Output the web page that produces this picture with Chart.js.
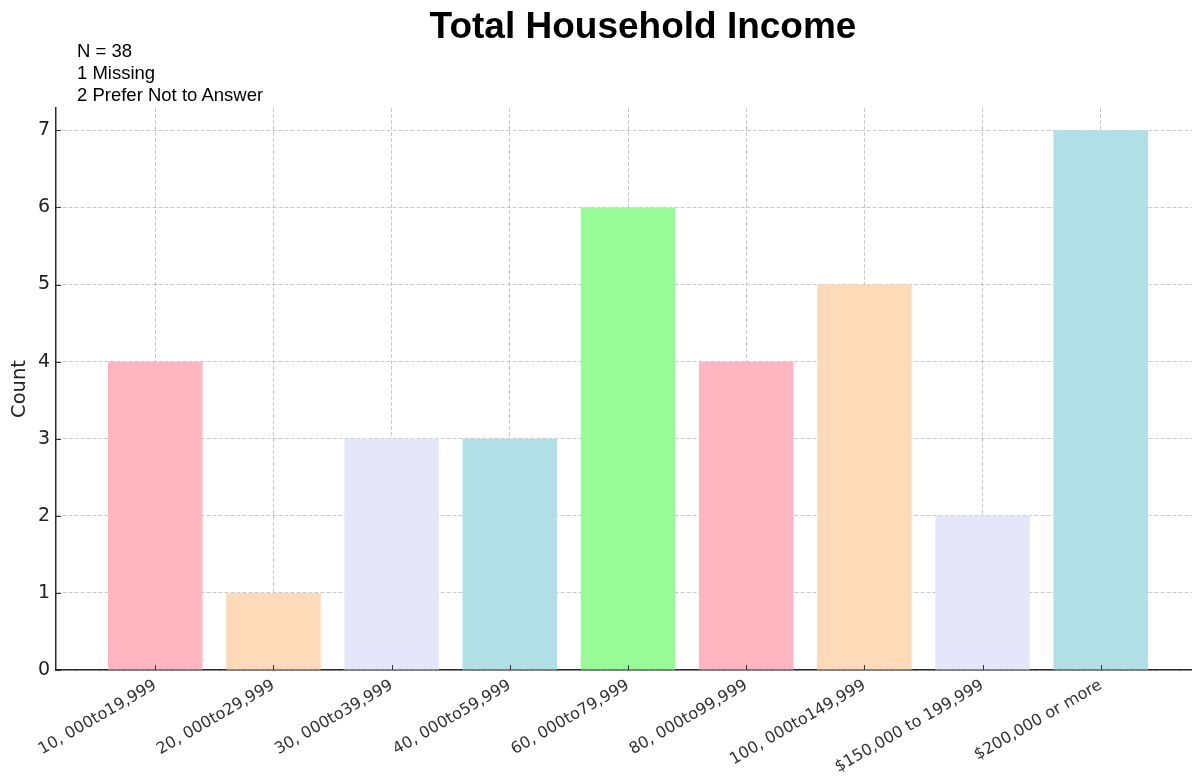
<!DOCTYPE html>
<html>
<head>
<meta charset="utf-8">
<script src="https://cdn.jsdelivr.net/npm/chart.js@4.4.1/dist/chart.umd.min.js"></script>
<style>
  html, body { margin: 0; padding: 0; background: #fff; overflow: hidden; }
  #wrap { position: relative; width: 1192px; height: 780px; overflow: hidden; }
  #chart { position: absolute; left: 0; top: 0; }
  #title {
    position: absolute; left: 643px; top: 7px; transform: translateX(-50%);
    font: bold 37px "Liberation Sans", Arial, sans-serif; line-height: 37px;
    color: #000; white-space: nowrap;
  }
  #notes {
    position: absolute; left: 77px; top: 40px;
    font: 18.5px "Liberation Sans", Arial, sans-serif; line-height: 22px;
    color: #000; white-space: nowrap;
  }
</style>
</head>
<body>
<div id="wrap">
  <canvas id="chart" width="1200" height="780"></canvas>
  <div id="title">Total Household Income</div>
  <div id="notes">N = 38<br>1 Missing<br>2 Prefer Not to Answer</div>
</div>
<script>
const categories = [
  "10, 000to19,999",
  "20, 000to29,999",
  "30, 000to39,999",
  "40, 000to59,999",
  "60, 000to79,999",
  "80, 000to99,999",
  "100, 000to149,999",
  "$150,000 to 199,999",
  "$200,000 or more"
];
const counts = [4, 1, 3, 3, 6, 4, 5, 2, 7];
const barColors = [
  "#FFB6C1", "#FFDAB9", "#E6E6FA", "#B0E0E6", "#98FB98",
  "#FFB6C1", "#FFDAB9", "#E6E6FA", "#B0E0E6"
];
const yTicks = [0, 1, 2, 3, 4, 5, 6, 7];

// matplotlib style inward tick marks
const inwardTicks = {
  id: "inwardTicks",
  afterDraw(chart) {
    const { ctx, chartArea, scales } = chart;
    ctx.save();
    ctx.strokeStyle = "#333";
    ctx.lineWidth = 1;
    scales.y.ticks.forEach(t => {
      const y = Math.round(scales.y.getPixelForValue(t.value)) + 0.5;
      ctx.beginPath();
      ctx.moveTo(chartArea.left, y);
      ctx.lineTo(chartArea.left + 5, y);
      ctx.stroke();
    });
    scales.x.ticks.forEach(t => {
      const x = Math.round(scales.x.getPixelForValue(t.value)) + 0.5;
      ctx.beginPath();
      ctx.moveTo(x, chartArea.bottom);
      ctx.lineTo(x, chartArea.bottom - 5);
      ctx.stroke();
    });
    ctx.restore();
  }
};

const gridStyle = {
  color: "rgba(150,150,150,0.5)",
  lineWidth: 1,
  drawTicks: false,
  offset: false
};

new Chart(document.getElementById("chart"), {
  type: "bar",
  data: {
    datasets: [{
      data: counts.map((v, i) => ({ x: i, y: v })),
      backgroundColor: barColors,
      borderWidth: 0,
      barPercentage: 0.8,
      categoryPercentage: 1.0
    }]
  },
  options: {
    responsive: false,
    animation: false,
    devicePixelRatio: 1,
    layout: { padding: { top: 108, left: 0, right: 0, bottom: 0 } },
    plugins: { legend: { display: false }, tooltip: { enabled: false } },
    scales: {
      x: {
        type: "linear",
        offset: false,
        min: -0.84,
        max: 8.84,
        z: 1,
        afterBuildTicks: s => { s.ticks = categories.map((c, i) => ({ value: i })); },
        afterFit: s => { s.height = 110; },
        grid: { ...gridStyle },
        border: { display: true, color: "#2a2a2a", width: 1.5, dash: [4, 2] },
        ticks: {
          autoSkip: false,
          minRotation: 30,
          maxRotation: 30,
          padding: 6,
          color: "#333",
          font: { family: "DejaVu Sans", size: 16 },
          callback: v => categories[v]
        }
      },
      y: {
        min: 0,
        max: 7.29,
        z: 1,
        afterBuildTicks: s => { s.ticks = yTicks.map(v => ({ value: v })); },
        afterFit: s => { s.width = 56; },
        grid: { ...gridStyle },
        border: { display: true, color: "#2a2a2a", width: 1.5, dash: [4, 2] },
        ticks: {
          padding: 6,
          color: "#222",
          font: { family: "DejaVu Sans", size: 19 }
        },
        title: {
          display: true,
          text: "Count",
          color: "#222",
          padding: { top: 8, bottom: 0 },
          font: { family: "DejaVu Sans", size: 19.5 }
        }
      }
    }
  },
  plugins: [inwardTicks]
});
</script>
</body>
</html>
